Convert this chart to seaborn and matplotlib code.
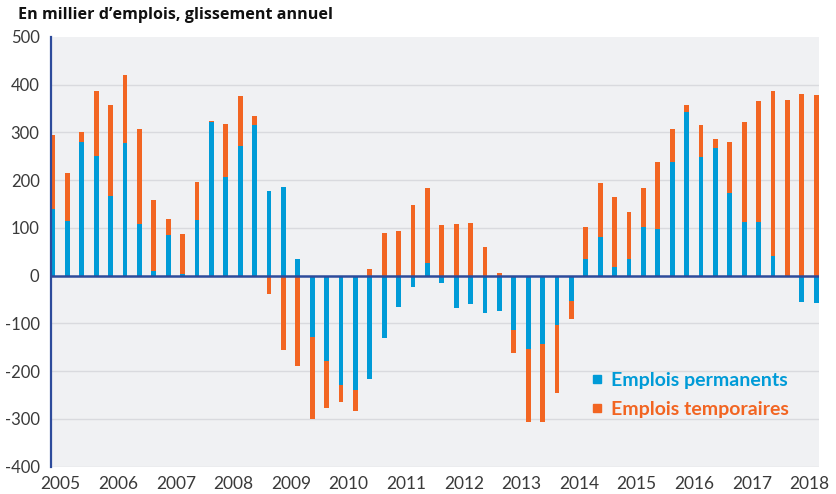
import numpy as np
import pandas as pd
import seaborn as sns
import matplotlib.pyplot as plt
from matplotlib.lines import Line2D
from matplotlib.ticker import FixedLocator, FixedFormatter, NullFormatter

# ---- data (milliers d'emplois, glissement annuel, trimestriel 2005T1-2018T2)
periods = pd.period_range("2005Q1", "2018Q2", freq="Q")
permanents = [139, 115, 280, 250, 166, 278, 108, 10,
              86, 3, 116, 321,
              207, 271, 315, 178,
              186, 36, -128, -179,
              -228, -240, -217, -131,
              -66, -24, 27, -15,
              -68, -59, -78, -74,
              -113, -154, -142, -103,
              -52, 34, 82, 19,
              36, 103, 98, 238,
              343, 248, 268, 173,
              112, 112, 41, 0,
              -55, -58]
temporaires = [155, 100, 21, 136, 192, 143, 200, 149,
               32, 84, 80, 3,
               111, 105, 19, -39,
               -156, -190, -173, -99,
               -36, -43, 14, 90,
               94, 149, 157, 107,
               108, 110, 60, 6,
               -49, -152, -164, -142,
               -39, 69, 112, 145,
               98, 81, 141, 70,
               15, 67, 19, 107,
               210, 253, 346, 369,
               380, 378]
year_ticks = list(range(2005, 2019))
y_ticks = list(range(-400, 501, 100))
title = "En millier d\u2019emplois, glissement annuel"
labels = ["Emplois permanents", "Emplois temporaires"]

BLUE = "#009bd7"
ORANGE = "#f26522"
NAVY = "#2d4b9b"
BG = "#f0f1f3"
GRID = "#d9dade"
TXT = "#3a3a3a"

perm = np.array(permanents, dtype=float)
temp = np.array(temporaires, dtype=float)
xpos = np.array([p.year + (p.quarter - 1) / 4 for p in periods]) + 0.041
# diverging stack: same sign -> stacked on permanents, opposite sign -> from zero
temp_end = np.where(np.sign(perm) == np.sign(temp), perm + temp, temp)
df = pd.DataFrame({"x": xpos, "perm": perm, "temp_end": temp_end})

sns.set_theme(style="white")
plt.rcParams["font.family"] = ["Lato", "DejaVu Sans"]
plt.rcParams["axes.unicode_minus"] = False

fig = plt.figure(figsize=(8.36, 4.94), dpi=100)
ax = fig.add_axes([50.7 / 836, 1 - 466.7 / 494, (819 - 50.7) / 836, (466.7 - 37) / 494])
ax.set_facecolor(BG)

sns.barplot(data=df, x="x", y="temp_end", native_scale=True, color=ORANGE,
            saturation=1, width=0.33, errorbar=None, linewidth=0, ax=ax, zorder=2)
sns.barplot(data=df, x="x", y="perm", native_scale=True, color=BLUE,
            saturation=1, width=0.33, errorbar=None, linewidth=0, ax=ax, zorder=3)

ax.set_xlim(2005, 2018.34)
ax.set_ylim(-400, 500)
ax.set_xlabel("")
ax.set_ylabel("")

ax.set_yticks(y_ticks)
ax.set_yticklabels([str(v) for v in y_ticks])
for v in y_ticks:
    if v not in (0, 500):
        ax.axhline(v, color=GRID, lw=1.0, zorder=1)
ax.axhline(0, color=NAVY, lw=1.8, zorder=5)

# year tick marks (major, unlabeled) and year labels shifted right (minor, no mark)
ax.xaxis.set_major_locator(FixedLocator(year_ticks))
ax.xaxis.set_major_formatter(NullFormatter())
ax.xaxis.set_minor_locator(FixedLocator([y + 0.174 for y in year_ticks]))
ax.xaxis.set_minor_formatter(FixedFormatter([str(y) for y in year_ticks]))

ax.tick_params(axis="y", length=3, width=0.8, color="#9a9a9a", labelsize=12,
               labelcolor=TXT, pad=5)
ax.tick_params(axis="x", which="major", length=4, width=0.8, color="#9a9a9a")
ax.tick_params(axis="x", which="minor", length=0, labelsize=12.5,
               labelcolor=TXT, pad=7)

for s in ("top", "right", "bottom"):
    ax.spines[s].set_visible(False)
ax.spines["left"].set_color(NAVY)
ax.spines["left"].set_linewidth(1.6)
ax.spines["left"].set_zorder(6)

fig.text(18 / 836, 1 - 15 / 494, title, fontsize=11.6, fontweight="bold",
         family=["Open Sans", "DejaVu Sans"],
         color="#111111", va="center", ha="left")

handles = [Line2D([], [], marker="s", linestyle="", color=BLUE, markersize=6),
           Line2D([], [], marker="s", linestyle="", color=ORANGE, markersize=6)]
leg = ax.legend(handles, labels, loc="upper left",
                bbox_to_anchor=(587 / 836, 1 - 372 / 494), bbox_transform=fig.transFigure,
                frameon=False, handletextpad=0.25, handlelength=1.0, labelspacing=0.62,
                prop={"size": 14, "weight": "bold"}, labelcolor=[BLUE, ORANGE],
                borderaxespad=0, borderpad=0)

fig.savefig("out.png", dpi=100)
